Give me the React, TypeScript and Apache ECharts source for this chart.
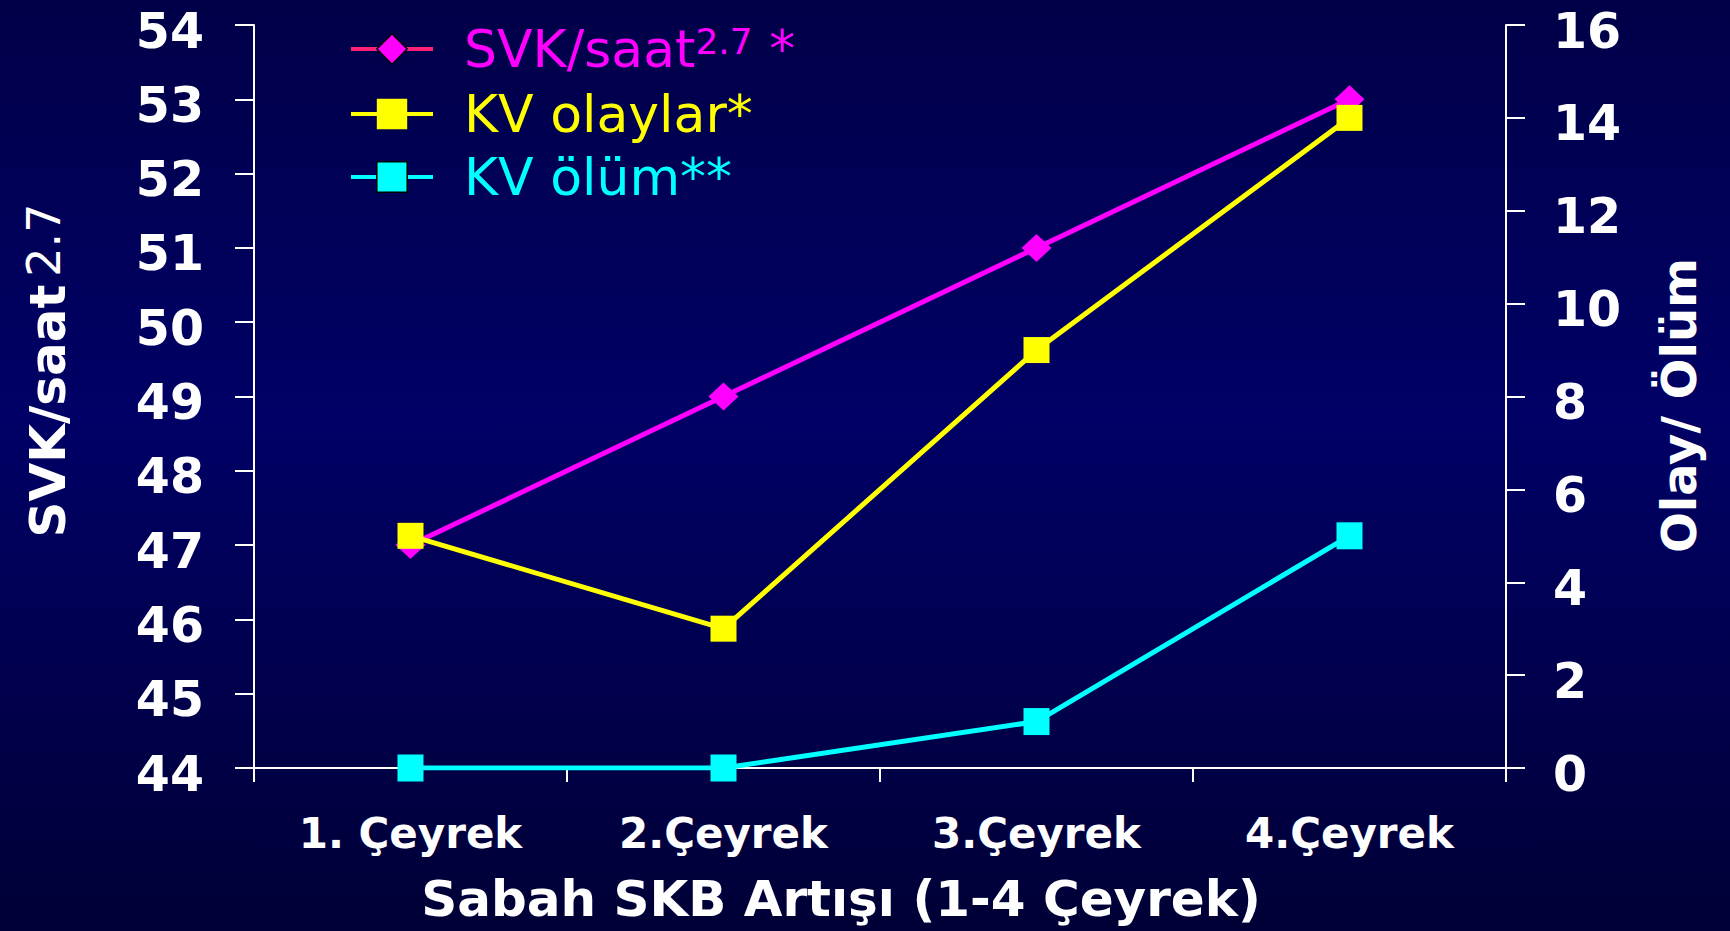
import React, { useEffect, useRef } from "react";
import * as echarts from "echarts";

const categories = ["1. Çeyrek", "2.Çeyrek", "3.Çeyrek", "4.Çeyrek"];
const svkValues = [47, 49, 51, 53];
const kvOlayValues = [5, 3, 9, 14];
const kvOlumValues = [0, 0, 1, 5];
const seriesNames = ["SVK/saat2.7 *", "KV olaylar*", "KV ölüm**"];
const leftAxisRange = [44, 54, 1];
const rightAxisRange = [0, 16, 2];
const xAxisTitle = "Sabah SKB Artışı (1-4 Çeyrek)";
const leftAxisTitle = ["SVK/saat", "2.7"];
const rightAxisTitle = "Olay/ Ölüm";

const FONT = "DejaVu Sans";
const MAGENTA = "#FF00FF";
const YELLOW = "#FFFF00";
const CYAN = "#00FFFF";

export default function App() {
  const ref = useRef<HTMLDivElement>(null);

  useEffect(() => {
    if (!ref.current) return;
    const chart = echarts.init(ref.current, null, { renderer: "svg" });
    const axisLine = { show: true, lineStyle: { color: "#FFFFFF", width: 2 } };
    const tickStyle = { show: true, length: 19, lineStyle: { color: "#FFFFFF", width: 2 } };
    const yLabel = {
      color: "#FFFFFF",
      fontFamily: FONT,
      fontWeight: "bold",
      fontSize: 49,
      lineHeight: 12,
      verticalAlign: "top",
    };

    chart.setOption({
      animation: false,
      backgroundColor: {
        type: "linear",
        x: 0,
        y: 0,
        x2: 0,
        y2: 1,
        colorStops: [
          { offset: 0, color: "#000048" },
          { offset: 0.45, color: "#000066" },
          { offset: 1, color: "#000036" },
        ],
      },
      grid: { left: 254, right: 224, top: 25, bottom: 163 },
      legend: {
        orient: "vertical",
        left: 344,
        top: 18,
        itemWidth: 82,
        itemHeight: 38,
        itemGap: 11,
        data: [
          {
            name: seriesNames[0],
            lineStyle: { color: "#FF2277", width: 4 },
            itemStyle: { color: MAGENTA, borderColor: "#000000", borderWidth: 1.5 },
          },
          { name: seriesNames[1], lineStyle: { color: YELLOW, width: 4 }, itemStyle: { color: YELLOW } },
          {
            name: seriesNames[2],
            lineStyle: { color: CYAN, width: 4 },
            itemStyle: { color: CYAN, borderColor: "#000000", borderWidth: 1.5 },
          },
        ],
        formatter: (name: string) => {
          if (name === seriesNames[0]) return "{g|}{m|SVK/saat}{ms|2.7}{m| *}";
          if (name === seriesNames[1]) return "{g|}{y|" + name + "}";
          return "{g|}{c|" + name + "}";
        },
        textStyle: {
          fontFamily: FONT,
          fontSize: 52,
          lineHeight: 52,
          rich: {
            g: { width: 26 },
            m: { color: MAGENTA, fontFamily: FONT, fontSize: 52, lineHeight: 52 },
            ms: { color: MAGENTA, fontFamily: FONT, fontSize: 36, lineHeight: 34, verticalAlign: "top", padding: [0, 0, 18, 0] },
            y: { color: YELLOW, fontFamily: FONT, fontSize: 52, lineHeight: 52 },
            c: { color: CYAN, fontFamily: FONT, fontSize: 52, lineHeight: 52 },
          },
        },
      },
      xAxis: {
        type: "category",
        data: categories,
        boundaryGap: true,
        axisLine: { ...axisLine, onZero: false },
        axisTick: { show: true, length: 14, lineStyle: { color: "#FFFFFF", width: 2 } },
        axisLabel: { color: "#FFFFFF", fontFamily: FONT, fontWeight: "bold", fontSize: 42, margin: 44 },
        name: xAxisTitle,
        nameLocation: "middle",
        nameGap: 106,
        nameTextStyle: {
          color: "#FFFFFF",
          fontFamily: FONT,
          fontWeight: "bold",
          fontSize: 50,
          padding: [0, 78, 0, 0],
        },
        splitLine: { show: false },
      },
      yAxis: [
        {
          type: "value",
          position: "left",
          min: leftAxisRange[0],
          max: leftAxisRange[1],
          interval: leftAxisRange[2],
          axisLine: axisLine,
          axisTick: tickStyle,
          axisLabel: { ...yLabel, margin: 50 },
          splitLine: { show: false },
          name: "{a|" + leftAxisTitle[0] + "}{b|" + leftAxisTitle[1] + "}",
          nameLocation: "middle",
          nameRotate: 90,
          nameGap: 179,
          nameTextStyle: {
            color: "#FFFFFF",
            padding: [0, 0, 0, 52],
            rich: {
              a: { color: "#FFFFFF", fontFamily: FONT, fontWeight: "bold", fontSize: 50, lineHeight: 54 },
              b: { color: "#FFFFFF", fontFamily: FONT, fontSize: 46, lineHeight: 54, verticalAlign: "top", padding: [0, 0, 14, 8] },
            },
          },
        },
        {
          type: "value",
          position: "right",
          min: rightAxisRange[0],
          max: rightAxisRange[1],
          interval: rightAxisRange[2],
          axisLine: axisLine,
          axisTick: tickStyle,
          axisLabel: { ...yLabel, margin: 47 },
          splitLine: { show: false },
          name: rightAxisTitle,
          nameLocation: "middle",
          nameRotate: 90,
          nameGap: 149,
          nameTextStyle: {
            color: "#FFFFFF",
            fontFamily: FONT,
            fontWeight: "bold",
            fontSize: 48,
            padding: [0, 18, 0, 0],
          },
        },
      ],
      series: [
        {
          name: seriesNames[0],
          type: "line",
          yAxisIndex: 0,
          data: svkValues,
          symbol: "diamond",
          symbolSize: [30, 28],
          lineStyle: { color: MAGENTA, width: 5 },
          itemStyle: { color: MAGENTA },
        },
        {
          name: seriesNames[1],
          type: "line",
          yAxisIndex: 1,
          data: kvOlayValues,
          symbol: "rect",
          symbolSize: [26, 26],
          lineStyle: { color: YELLOW, width: 5 },
          itemStyle: { color: YELLOW },
        },
        {
          name: seriesNames[2],
          type: "line",
          yAxisIndex: 1,
          data: kvOlumValues,
          symbol: "rect",
          symbolSize: [26, 27],
          lineStyle: { color: CYAN, width: 5 },
          itemStyle: { color: CYAN },
        },
      ],
    });

    return () => chart.dispose();
  }, []);

  return (
    <div
      ref={ref}
      style={{ position: "absolute", left: 0, top: 0, width: 1730, height: 931 }}
    />
  );
}
